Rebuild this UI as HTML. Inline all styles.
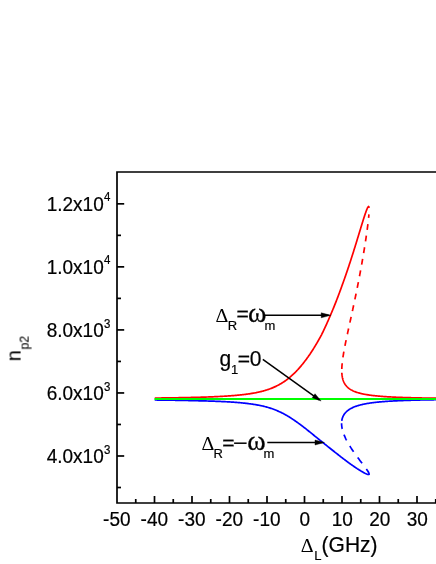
<!DOCTYPE html>
<html><head><meta charset="utf-8"><title>chart</title>
<style>html,body{margin:0;padding:0;background:#fff;}body{width:436px;height:564px;position:relative;overflow:hidden;font-family:"Liberation Sans",sans-serif;}</style>
</head><body>
<svg width="436" height="564" viewBox="0 0 436 564" style="position:absolute;left:0;top:0">
<rect width="436" height="564" fill="#fff"/>
<g fill="none" stroke-width="1.7" stroke-linejoin="round">
<path d="M154.76,398.05 L155.67,398.04 L156.57,398.03 L157.46,398.02 L158.35,398.01 L159.23,398.00 L160.11,397.99 L160.98,397.98 L161.85,397.97 L162.71,397.96 L163.57,397.95 L164.42,397.94 L165.26,397.93 L166.10,397.91 L166.94,397.90 L167.77,397.89 L168.59,397.88 L169.41,397.87 L170.22,397.86 L171.03,397.84 L171.84,397.83 L172.64,397.82 L173.43,397.81 L174.22,397.80 L175.00,397.78 L175.78,397.77 L176.56,397.76 L177.33,397.74 L178.09,397.73 L178.85,397.72 L179.61,397.70 L180.36,397.69 L181.10,397.68 L181.85,397.66 L182.58,397.65 L183.32,397.63 L184.04,397.62 L184.77,397.61 L185.49,397.59 L186.20,397.58 L186.91,397.56 L187.62,397.55 L188.32,397.53 L189.02,397.52 L189.71,397.50 L190.40,397.48 L191.09,397.47 L191.77,397.45 L192.45,397.44 L193.12,397.42 L193.79,397.40 L194.46,397.39 L195.12,397.37 L195.78,397.35 L196.43,397.33 L197.08,397.32 L197.72,397.30 L198.37,397.28 L199.01,397.26 L199.64,397.24 L200.27,397.23 L200.90,397.21 L201.52,397.19 L202.14,397.17 L202.76,397.15 L203.37,397.13 L203.98,397.11 L204.58,397.09 L205.19,397.07 L206.08,397.04 L206.97,397.01 L207.85,396.98 L208.72,396.95 L209.59,396.91 L210.45,396.88 L211.30,396.85 L212.14,396.81 L212.98,396.78 L213.81,396.74 L214.63,396.71 L215.45,396.67 L216.26,396.63 L217.06,396.60 L217.85,396.56 L218.64,396.52 L219.42,396.48 L220.20,396.44 L220.97,396.40 L221.73,396.36 L222.49,396.32 L223.24,396.27 L223.98,396.23 L224.72,396.19 L225.45,396.14 L226.18,396.10 L226.90,396.05 L227.61,396.00 L228.32,395.96 L229.03,395.91 L229.72,395.86 L230.42,395.81 L231.10,395.76 L231.78,395.71 L232.46,395.65 L233.13,395.60 L233.80,395.55 L234.46,395.49 L235.11,395.44 L235.76,395.38 L236.41,395.32 L237.05,395.26 L237.68,395.20 L238.31,395.14 L238.94,395.08 L239.56,395.02 L240.18,394.96 L240.79,394.89 L241.40,394.83 L242.00,394.76 L242.60,394.69 L243.39,394.60 L244.18,394.51 L244.95,394.41 L245.72,394.31 L246.49,394.21 L247.24,394.11 L247.99,394.01 L248.73,393.90 L249.47,393.79 L250.20,393.68 L250.92,393.57 L251.63,393.45 L252.34,393.34 L253.05,393.21 L253.74,393.09 L254.44,392.97 L255.12,392.84 L255.80,392.71 L256.48,392.57 L257.15,392.43 L257.81,392.29 L258.47,392.15 L259.12,392.01 L259.77,391.86 L260.42,391.70 L261.06,391.55 L261.69,391.39 L262.32,391.23 L262.95,391.06 L263.57,390.89 L264.19,390.72 L264.80,390.54 L265.41,390.36 L266.02,390.18 L266.62,389.99 L267.22,389.80 L267.81,389.60 L268.40,389.40 L268.99,389.20 L269.58,388.99 L270.16,388.78 L270.74,388.56 L271.31,388.34 L271.89,388.11 L272.46,387.88 L273.02,387.64 L273.59,387.40 L274.15,387.15 L274.71,386.90 L275.27,386.64 L275.83,386.37 L276.38,386.11 L276.93,385.83 L277.49,385.55 L278.03,385.26 L278.58,384.97 L279.13,384.67 L279.68,384.36 L280.23,384.05 L280.78,383.73 L281.33,383.41 L281.87,383.08 L282.42,382.74 L282.96,382.39 L283.50,382.03 L284.05,381.67 L284.59,381.30 L285.13,380.93 L285.68,380.54 L286.22,380.15 L286.76,379.74 L287.30,379.33 L287.85,378.91 L288.39,378.48 L288.94,378.05 L289.48,377.60 L290.03,377.14 L290.58,376.68 L291.12,376.20 L291.67,375.71 L292.22,375.22 L292.77,374.71 L293.33,374.19 L293.88,373.66 L294.44,373.12 L295.00,372.57 L295.56,372.00 L295.98,371.57 L296.40,371.14 L296.82,370.69 L297.25,370.24 L297.68,369.78 L298.10,369.31 L298.53,368.84 L298.96,368.36 L299.40,367.87 L299.83,367.37 L300.26,366.87 L300.70,366.35 L301.14,365.83 L301.58,365.30 L302.02,364.76 L302.47,364.22 L302.92,363.66 L303.37,363.10 L303.82,362.52 L304.27,361.94 L304.73,361.35 L305.19,360.75 L305.65,360.14 L306.11,359.52 L306.58,358.89 L307.05,358.25 L307.51,357.60 L307.99,356.94 L308.46,356.26 L308.94,355.58 L309.42,354.89 L309.90,354.18 L310.39,353.47 L310.87,352.74 L311.36,352.00 L311.86,351.25 L312.19,350.74 L312.52,350.23 L312.85,349.71 L313.18,349.19 L313.51,348.66 L313.85,348.13 L314.18,347.59 L314.51,347.04 L314.85,346.49 L315.19,345.93 L315.53,345.37 L315.87,344.80 L316.21,344.22 L316.56,343.64 L316.90,343.05 L317.25,342.46 L317.59,341.86 L317.94,341.25 L318.29,340.64 L318.65,340.02 L319.00,339.39 L319.35,338.76 L319.71,338.12 L320.07,337.48 L320.43,336.82 L320.79,336.16 L321.15,335.49 L321.51,334.82 L321.84,334.14 L322.18,333.45 L322.53,332.75 L322.87,332.05 L323.21,331.34 L323.56,330.62 L323.90,329.90 L324.25,329.16 L324.60,328.42 L324.95,327.67 L325.30,326.91 L325.65,326.15 L326.01,325.37 L326.36,324.59 L326.72,323.80 L327.07,323.00 L327.43,322.20 L327.79,321.38 L328.16,320.56 L328.52,319.72 L328.88,318.88 L329.25,318.03 L329.61,317.17 L329.98,316.30 L330.35,315.42 L330.73,314.54 L331.11,313.64 L331.50,312.73 L331.89,311.82 L332.28,310.89 L332.67,309.96 L333.06,309.01 L333.46,308.05 L333.85,307.09 L334.25,306.11 L334.65,305.13 L335.05,304.13 L335.45,303.12 L335.85,302.10 L336.26,301.07 L336.66,300.03 L337.07,298.98 L337.48,297.92 L337.89,296.85 L338.30,295.76 L338.72,294.67 L339.13,293.56 L339.55,292.44 L339.76,291.88 L339.97,291.31 L340.18,290.74 L340.39,290.16 L340.60,289.59 L340.81,289.01 L341.02,288.43 L341.23,287.84 L341.44,287.25 L341.65,286.66 L341.87,286.06 L342.08,285.47 L342.29,284.87 L342.52,284.26 L342.74,283.65 L342.96,283.04 L343.18,282.43 L343.40,281.81 L343.62,281.19 L343.84,280.57 L344.07,279.94 L344.29,279.31 L344.52,278.68 L344.74,278.04 L344.96,277.40 L345.19,276.75 L345.42,276.11 L345.64,275.46 L345.87,274.80 L346.10,274.14 L346.32,273.48 L346.55,272.82 L346.78,272.15 L347.01,271.48 L347.24,270.80 L347.47,270.12 L347.70,269.44 L347.93,268.75 L348.16,268.06 L348.40,267.37 L348.63,266.67 L348.86,265.97 L349.10,265.27 L349.33,264.56 L349.56,263.85 L349.80,263.13 L350.04,262.41 L350.27,261.69 L350.51,260.96 L350.75,260.23 L350.98,259.50 L351.22,258.76 L351.46,258.02 L351.70,257.27 L351.94,256.52 L352.18,255.76 L352.43,255.00 L352.67,254.24 L352.91,253.48 L353.16,252.70 L353.40,251.93 L353.65,251.15 L353.89,250.37 L354.14,249.58 L354.38,248.79 L354.63,247.99 L354.88,247.19 L355.13,246.39 L355.38,245.58 L355.63,244.77 L355.89,243.95 L356.14,243.13 L356.39,242.31 L356.65,241.48 L356.90,240.64 L357.16,239.80 L357.42,238.96 L357.68,238.11 L357.94,237.26 L358.20,236.40 L358.46,235.54 L358.72,234.68 L358.99,233.81 L359.25,232.93 L359.52,232.05 L359.79,231.17 L360.06,230.28 L360.33,229.39 L360.61,228.49 L360.88,227.59 L361.16,226.68 L361.44,225.76 L361.62,225.18 L361.80,224.60 L361.98,224.01 L362.16,223.43 L362.35,222.83 L362.53,222.24 L362.71,221.67 L362.89,221.08 L363.07,220.51 L363.25,219.92 L363.43,219.35 L363.62,218.77 L363.81,218.18 L363.99,217.61 L364.18,217.03 L364.36,216.45 L364.55,215.87 L364.75,215.29 L364.94,214.71 L365.13,214.14 L365.33,213.56 L365.53,212.99 L365.73,212.42 L365.93,211.85 L366.13,211.29 L366.35,210.72 L366.56,210.15 L366.79,209.58 L367.02,209.03 L367.26,208.47 L367.52,207.92 L367.80,207.39 L368.12,206.89 L368.60,206.52 L368.98,206.99 L369.09,207.58 L369.12,207.81" stroke="#ff0000"/>
<path d="M368.93,214.30 L368.90,214.63 L368.87,214.95 L368.85,215.28 L368.82,215.61 L368.79,215.94 L368.76,216.26 L368.73,216.59 L368.69,216.92 L368.66,217.25 L368.63,217.57 L368.60,217.90 M367.90,224.05 L367.84,224.58 L367.77,225.10 L367.71,225.63 L367.64,226.16 L367.57,226.69 L367.51,227.21 L367.44,227.74 L367.37,228.27 L367.30,228.80 L367.23,229.32 L367.16,229.85 M366.35,235.65 L366.27,236.18 L366.19,236.70 L366.12,237.23 L366.04,237.76 L365.96,238.29 L365.88,238.81 L365.80,239.34 L365.73,239.87 L365.65,240.40 L365.57,240.92 L365.49,241.45 M364.58,247.25 L364.50,247.78 L364.41,248.30 L364.33,248.83 L364.24,249.36 L364.16,249.89 L364.07,250.41 L363.98,250.94 L363.90,251.47 L363.81,252.00 L363.72,252.52 L363.64,253.05 M362.65,258.85 L362.56,259.38 L362.47,259.90 L362.38,260.43 L362.29,260.96 L362.20,261.49 L362.10,262.01 L362.01,262.54 L361.92,263.07 L361.82,263.60 L361.73,264.12 L361.64,264.65 M360.58,270.45 L360.49,270.98 L360.39,271.50 L360.29,272.03 L360.19,272.56 L360.10,273.09 L360.00,273.61 L359.90,274.14 L359.80,274.67 L359.70,275.20 L359.60,275.72 L359.50,276.25 M358.39,282.05 L358.28,282.58 L358.18,283.10 L358.08,283.63 L357.97,284.16 L357.87,284.69 L357.76,285.21 L357.66,285.74 L357.56,286.27 L357.45,286.80 L357.35,287.32 L357.24,287.85 M356.07,293.65 L355.96,294.18 L355.85,294.70 L355.74,295.23 L355.63,295.76 L355.52,296.29 L355.41,296.81 L355.31,297.34 L355.20,297.87 L355.09,298.40 L354.98,298.92 L354.87,299.45 M353.64,305.25 L353.53,305.78 L353.42,306.30 L353.30,306.83 L353.19,307.36 L353.08,307.89 L352.97,308.41 L352.85,308.94 L352.74,309.47 L352.63,310.00 L352.51,310.52 L352.40,311.05 M351.14,316.85 L351.02,317.38 L350.91,317.90 L350.79,318.43 L350.68,318.96 L350.56,319.49 L350.45,320.01 L350.33,320.54 L350.22,321.07 L350.10,321.60 L349.99,322.12 L349.87,322.65 M348.61,328.45 L348.49,328.98 L348.38,329.50 L348.26,330.03 L348.15,330.56 L348.03,331.09 L347.92,331.61 L347.80,332.14 L347.69,332.67 L347.58,333.20 L347.46,333.72 L347.35,334.25 M346.13,340.05 L346.02,340.58 L345.91,341.10 L345.80,341.63 L345.69,342.16 L345.58,342.69 L345.48,343.21 L345.37,343.74 L345.27,344.27 L345.16,344.80 L345.06,345.32 L344.95,345.85 M343.87,351.65 L343.78,352.18 L343.68,352.70 L343.59,353.23 L343.50,353.76 L343.42,354.29 L343.33,354.81 L343.25,355.34 L343.16,355.87 L343.08,356.40 L343.00,356.92 L342.92,357.45 M342.19,363.25 L342.14,363.78 L342.09,364.30 L342.04,364.83 L342.00,365.36 L341.96,365.89 L341.93,366.41 L341.89,366.94 L341.87,367.47 L341.84,368.00 L341.82,368.52 L341.81,369.05" stroke="#ff0000"/>
<path d="M341.84,372.71 L341.88,373.39 L341.93,374.06 L341.99,374.71 L342.06,375.34 L342.14,375.96 L342.24,376.56 L342.36,377.26 L342.50,377.94 L342.65,378.59 L342.82,379.23 L343.00,379.84 L343.20,380.44 L343.40,381.02 L343.63,381.58 L343.91,382.21 L344.21,382.82 L344.52,383.41 L344.86,383.97 L345.21,384.52 L345.58,385.04 L345.98,385.55 L346.38,386.04 L346.81,386.51 L347.26,386.96 L347.72,387.40 L348.20,387.82 L348.70,388.22 L349.22,388.61 L349.76,388.99 L350.31,389.35 L350.88,389.70 L351.47,390.04 L352.08,390.36 L352.71,390.68 L353.26,390.94 L353.82,391.19 L354.40,391.43 L354.99,391.67 L355.59,391.89 L356.21,392.12 L356.84,392.33 L357.48,392.54 L358.14,392.74 L358.81,392.93 L359.50,393.12 L360.08,393.28 L360.67,393.42 L361.27,393.57 L361.88,393.71 L362.50,393.85 L363.12,393.98 L363.76,394.11 L364.41,394.24 L365.07,394.36 L365.74,394.48 L366.42,394.60 L367.10,394.71 L367.80,394.83 L368.51,394.93 L369.23,395.04 L369.95,395.14 L370.69,395.24 L371.29,395.32 L371.89,395.40 L372.50,395.47 L373.12,395.55 L373.75,395.62 L374.38,395.69 L375.01,395.76 L375.66,395.82 L376.31,395.89 L376.97,395.96 L377.63,396.02 L378.30,396.08 L378.98,396.14 L379.67,396.20 L380.36,396.26 L381.06,396.32 L381.77,396.37 L382.48,396.43 L383.20,396.48 L383.93,396.53 L384.66,396.58 L385.41,396.63 L386.16,396.68 L386.91,396.73 L387.68,396.78 L388.45,396.82 L389.23,396.87 L390.02,396.91 L390.81,396.96 L391.41,396.99 L392.02,397.02 L392.62,397.05 L393.24,397.08 L393.85,397.11 L394.48,397.14 L395.10,397.17 L395.73,397.20 L396.37,397.23 L397.01,397.25 L397.65,397.28 L398.30,397.31 L398.95,397.33 L399.61,397.36 L400.27,397.39 L400.94,397.41 L401.61,397.44 L402.28,397.46 L402.96,397.48 L403.64,397.51 L404.33,397.53 L405.03,397.55 L405.72,397.58 L406.43,397.60 L407.13,397.62 L407.84,397.64 L408.56,397.66 L409.28,397.68 L410.01,397.70 L410.74,397.72 L411.47,397.74 L412.21,397.76 L412.95,397.78 L413.70,397.80 L414.46,397.82 L415.22,397.84 L415.98,397.86 L416.75,397.87 L417.52,397.89 L418.30,397.91 L419.08,397.93 L419.87,397.94 L420.66,397.96 L421.46,397.97 L422.26,397.99 L423.07,398.01 L423.88,398.02 L424.70,398.04 L425.52,398.05 L426.34,398.07 L427.18,398.08 L428.01,398.09 L428.86,398.11 L429.70,398.12 L430.55,398.14 L431.41,398.15 L432.27,398.16 L433.14,398.18 L434.01,398.19 L434.89,398.20 L435.77,398.21 L436.66,398.23 L437.55,398.24 L438.45,398.25 L439.05,398.26 L439.66,398.26 L439.96,398.27" stroke="#ff0000"/>
<path d="M154.70,400.00 L155.56,400.01 L156.40,400.02 L157.25,400.03 L158.09,400.04 L158.92,400.05 L159.75,400.06 L160.57,400.07 L161.39,400.08 L162.20,400.09 L163.01,400.10 L163.82,400.11 L164.62,400.12 L165.41,400.13 L166.20,400.14 L166.99,400.15 L167.77,400.16 L168.54,400.18 L169.32,400.19 L170.08,400.20 L170.85,400.21 L171.60,400.22 L172.36,400.23 L173.11,400.24 L173.85,400.26 L174.59,400.27 L175.33,400.28 L176.06,400.29 L176.79,400.30 L177.52,400.32 L178.24,400.33 L178.95,400.34 L179.66,400.35 L180.37,400.37 L181.07,400.38 L181.77,400.39 L182.47,400.41 L183.16,400.42 L183.85,400.43 L184.53,400.45 L185.21,400.46 L185.88,400.47 L186.56,400.49 L187.22,400.50 L187.89,400.52 L188.55,400.53 L189.21,400.55 L189.86,400.56 L190.51,400.57 L191.15,400.59 L191.80,400.60 L192.43,400.62 L193.07,400.64 L193.70,400.65 L194.33,400.67 L194.95,400.68 L195.57,400.70 L196.19,400.71 L196.80,400.73 L197.41,400.75 L198.02,400.76 L198.63,400.78 L199.23,400.80 L200.12,400.82 L201.01,400.84 L201.89,400.86 L202.76,400.88 L203.62,400.90 L204.48,400.93 L205.33,400.95 L206.18,400.97 L207.01,400.99 L207.84,401.02 L208.67,401.04 L209.48,401.07 L210.29,401.09 L211.10,401.12 L211.90,401.14 L212.69,401.17 L213.47,401.20 L214.25,401.22 L215.02,401.25 L215.79,401.28 L216.55,401.31 L217.30,401.34 L218.05,401.37 L218.79,401.40 L219.53,401.43 L220.26,401.46 L220.98,401.49 L221.70,401.53 L222.41,401.56 L223.12,401.59 L223.82,401.63 L224.52,401.66 L225.21,401.70 L225.90,401.73 L226.58,401.77 L227.26,401.81 L227.93,401.85 L228.59,401.88 L229.25,401.92 L229.91,401.96 L230.56,402.00 L231.20,402.05 L231.85,402.09 L232.48,402.13 L233.11,402.17 L233.74,402.22 L234.36,402.26 L234.98,402.31 L235.59,402.35 L236.20,402.40 L236.80,402.45 L237.40,402.49 L238.20,402.56 L238.98,402.63 L239.76,402.70 L240.53,402.76 L241.29,402.84 L242.05,402.91 L242.80,402.98 L243.54,403.06 L244.28,403.14 L245.00,403.21 L245.73,403.29 L246.44,403.38 L247.15,403.46 L247.85,403.55 L248.55,403.63 L249.24,403.72 L249.93,403.81 L250.61,403.90 L251.28,404.00 L251.95,404.10 L252.61,404.19 L253.26,404.29 L253.91,404.40 L254.56,404.50 L255.20,404.60 L255.84,404.71 L256.47,404.82 L257.09,404.93 L257.71,405.04 L258.33,405.15 L258.94,405.27 L259.55,405.39 L260.15,405.51 L260.75,405.64 L261.34,405.76 L261.93,405.89 L262.52,406.02 L263.25,406.19 L263.97,406.36 L264.68,406.54 L265.39,406.72 L266.10,406.91 L266.80,407.10 L267.49,407.29 L268.19,407.49 L268.87,407.70 L269.55,407.90 L270.23,408.12 L270.91,408.34 L271.58,408.57 L272.25,408.80 L272.91,409.03 L273.57,409.28 L274.23,409.52 L274.89,409.78 L275.54,410.04 L276.19,410.31 L276.85,410.58 L277.50,410.86 L278.14,411.14 L278.79,411.43 L279.44,411.71 L280.09,412.01 L280.73,412.31 L281.38,412.63 L282.03,412.94 L282.68,413.27 L283.33,413.61 L283.98,413.95 L284.64,414.30 L285.29,414.66 L285.82,414.96 L286.35,415.26 L286.88,415.56 L287.41,415.88 L287.95,416.20 L288.49,416.52 L289.03,416.85 L289.58,417.19 L290.12,417.53 L290.68,417.88 L291.23,418.24 L291.79,418.61 L292.36,418.98 L292.92,419.36 L293.50,419.75 L294.08,420.14 L294.66,420.55 L295.25,420.96 L295.85,421.37 L296.45,421.80 L297.06,422.23 L297.67,422.68 L298.29,423.13 L298.93,423.59 L299.56,424.05 L300.05,424.41 L300.54,424.77 L301.03,425.14 L301.53,425.51 L302.03,425.89 L302.54,426.27 L303.06,426.66 L303.58,427.06 L304.10,427.46 L304.64,427.86 L305.18,428.28 L305.72,428.71 L306.27,429.16 L306.83,429.61 L307.40,430.06 L307.97,430.52 L308.55,430.99 L309.14,431.47 L309.74,431.95 L310.34,432.44 L310.95,432.93 L311.57,433.43 L312.20,433.94 L312.84,434.46 L313.49,434.98 L314.14,435.51 L314.81,436.05 L315.49,436.60 L316.17,437.15 L316.87,437.71 L317.34,438.09 L317.82,438.47 L318.30,438.86 L318.78,439.25 L319.27,439.64 L319.77,440.04 L320.27,440.45 L320.78,440.86 L321.29,441.27 L321.81,441.69 L322.33,442.12 L322.86,442.54 L323.39,442.98 L323.93,443.41 L324.48,443.85 L325.03,444.29 L325.59,444.74 L326.16,445.20 L326.73,445.65 L327.30,446.11 L327.89,446.58 L328.48,447.05 L329.08,447.52 L329.68,448.00 L330.30,448.48 L330.92,448.97 L331.54,449.46 L332.18,449.96 L332.82,450.48 L333.47,451.00 L334.13,451.52 L334.79,452.05 L335.46,452.59 L336.15,453.13 L336.84,453.67 L337.54,454.23 L338.24,454.78 L338.96,455.34 L339.69,455.91 L340.42,456.48 L341.17,457.06 L341.92,457.64 L342.69,458.23 L343.46,458.82 L344.25,459.42 L345.04,460.03 L345.85,460.63 L346.67,461.23 L347.50,461.84 L348.34,462.46 L349.20,463.08 L350.06,463.71 L350.95,464.34 L351.84,464.98 L352.75,465.63 L353.68,466.28 L354.62,466.94 L355.12,467.28 L355.62,467.61 L356.13,467.94 L356.64,468.27 L357.15,468.61 L357.67,468.94 L358.18,469.26 L358.68,469.59 L359.19,469.91 L359.71,470.23 L360.23,470.55 L360.75,470.86 L361.27,471.18 L361.79,471.49 L362.31,471.79 L362.84,472.10 L363.37,472.40 L363.90,472.69 L364.43,472.97 L364.96,473.25 L365.50,473.52 L366.05,473.77 L366.60,474.01 L367.17,474.23 L367.74,474.40 L368.33,474.50 L368.92,474.35 L369.08,474.00" stroke="#0000ff"/>
<path d="M341.59,423.15 L341.59,423.68 L341.60,424.20 L341.63,424.73 L341.67,425.26 L341.72,425.79 L341.78,426.31 L341.85,426.84 L341.93,427.37 L342.02,427.90 L342.12,428.42 L342.24,428.95 M343.97,434.60 L344.18,435.13 L344.40,435.65 L344.62,436.18 L344.84,436.71 L345.08,437.24 L345.32,437.76 L345.56,438.29 L345.82,438.82 L346.07,439.35 L346.34,439.87 L346.61,440.40 M349.82,446.05 L350.14,446.58 L350.47,447.10 L350.81,447.63 L351.15,448.16 L351.49,448.69 L351.83,449.21 L352.18,449.74 L352.54,450.27 L352.89,450.80 L353.25,451.32 L353.62,451.85 M357.69,457.50 L358.08,458.03 L358.48,458.55 L358.88,459.08 L359.28,459.61 L359.68,460.14 L360.08,460.66 L360.48,461.19 L360.88,461.72 L361.29,462.25 L361.69,462.77 L362.09,463.30 M366.34,468.95 L366.70,469.45 L367.05,469.96 L367.40,470.46 L367.73,470.97 L368.04,471.47 L368.34,471.98 L368.61,472.48 L368.85,472.99 L369.03,473.49 L369.08,473.99 L368.41,474.50" stroke="#0000ff"/>
<path d="M341.77,420.79 L341.86,420.19 L342.00,419.51 L342.16,418.85 L342.34,418.22 L342.55,417.60 L342.77,417.00 L343.02,416.42 L343.29,415.86 L343.59,415.32 L343.90,414.80 L344.22,414.29 L344.57,413.80 L344.99,413.26 L345.43,412.74 L345.90,412.23 L346.38,411.75 L346.82,411.34 L347.28,410.94 L347.75,410.56 L348.24,410.19 L348.74,409.83 L349.26,409.48 L349.79,409.14 L350.34,408.82 L350.90,408.50 L351.47,408.20 L352.06,407.90 L352.66,407.61 L353.27,407.34 L353.90,407.07 L354.54,406.81 L355.19,406.56 L355.76,406.35 L356.34,406.15 L356.93,405.95 L357.53,405.76 L358.14,405.57 L358.76,405.39 L359.38,405.21 L360.02,405.04 L360.67,404.87 L361.32,404.71 L361.98,404.55 L362.66,404.40 L363.34,404.25 L364.03,404.11 L364.74,403.96 L365.33,403.85 L365.93,403.74 L366.53,403.63 L367.15,403.52 L367.77,403.42 L368.39,403.32 L369.02,403.22 L369.66,403.12 L370.31,403.02 L370.96,402.93 L371.62,402.84 L372.28,402.75 L372.96,402.66 L373.64,402.58 L374.32,402.50 L375.02,402.42 L375.72,402.34 L376.42,402.26 L377.14,402.18 L377.86,402.11 L378.59,402.04 L379.32,401.97 L380.06,401.90 L380.66,401.85 L381.27,401.79 L381.87,401.74 L382.49,401.69 L383.10,401.64 L383.73,401.59 L384.35,401.54 L384.98,401.50 L385.62,401.45 L386.26,401.40 L386.90,401.36 L387.55,401.31 L388.21,401.27 L388.87,401.23 L389.53,401.19 L390.20,401.15 L390.87,401.11 L391.55,401.07 L392.24,401.03 L392.92,400.99 L393.62,400.96 L394.32,400.92 L395.02,400.88 L395.73,400.85 L396.44,400.81 L397.16,400.78 L397.88,400.75 L398.61,400.71 L399.34,400.68 L400.08,400.65 L400.82,400.62 L401.56,400.59 L402.32,400.56 L403.07,400.53 L403.84,400.50 L404.60,400.47 L405.38,400.45 L406.15,400.42 L406.94,400.39 L407.72,400.37 L408.52,400.34 L409.31,400.32 L409.92,400.30 L410.52,400.28 L411.13,400.26 L411.74,400.24 L412.35,400.23 L412.97,400.21 L413.59,400.19 L414.21,400.18 L414.83,400.16 L415.46,400.14 L416.09,400.13 L416.73,400.11 L417.36,400.10 L418.00,400.08 L418.65,400.06 L419.29,400.05 L419.94,400.03 L420.59,400.02 L421.24,400.01 L421.90,399.99 L422.56,399.98 L423.22,399.96 L423.89,399.95 L424.56,399.94 L425.23,399.92 L425.90,399.91 L426.58,399.90 L427.26,399.89 L427.94,399.87 L428.63,399.86 L429.32,399.85 L430.01,399.84 L430.71,399.82 L431.41,399.81 L432.11,399.80 L432.81,399.79 L433.52,399.78 L434.23,399.77 L434.94,399.76 L435.65,399.75 L436.37,399.74 L437.09,399.73 L437.82,399.71 L438.54,399.70 L439.27,399.69 L439.76,399.69" stroke="#0000ff"/>
<path d="M154.5,399 L440,399" stroke="#00ff00" stroke-width="2"/>
</g>
<g stroke="#000" stroke-width="1.7" fill="none" stroke-linecap="butt">
<path d="M440,172 L117,172 L117,503 L440,503" stroke-linejoin="miter"/>
<path d="M117,487.51 h4"/>
<path d="M117,455.99 h7.2"/>
<path d="M117,424.47 h4"/>
<path d="M117,392.95 h7.2"/>
<path d="M117,361.43 h4"/>
<path d="M117,329.91 h7.2"/>
<path d="M117,298.39 h4"/>
<path d="M117,266.87 h7.2"/>
<path d="M117,235.35 h4"/>
<path d="M117,203.83 h7.2"/>
<path d="M135.75,503 v-4"/>
<path d="M154.50,503 v-7"/>
<path d="M173.25,503 v-4"/>
<path d="M192.00,503 v-7"/>
<path d="M210.75,503 v-4"/>
<path d="M229.50,503 v-7"/>
<path d="M248.25,503 v-4"/>
<path d="M267.00,503 v-7"/>
<path d="M285.75,503 v-4"/>
<path d="M304.50,503 v-7"/>
<path d="M323.25,503 v-4"/>
<path d="M342.00,503 v-7"/>
<path d="M360.75,503 v-4"/>
<path d="M379.50,503 v-7"/>
<path d="M398.25,503 v-4"/>
<path d="M417.00,503 v-7"/>
<path d="M435.75,503 v-4"/>
</g>
<path d="M265.00,315.30 L328.60,315.30" stroke="#000" stroke-width="1.5" fill="none"/><path d="M330.80,315.30 L321.20,317.80 L321.20,312.80 Z" fill="#000" stroke="#000" stroke-width="0.4" stroke-linejoin="miter" stroke-miterlimit="10"/>
<path d="M262.80,359.30 L319.31,399.77" stroke="#000" stroke-width="1.5" fill="none"/><path d="M321.10,401.05 L312.22,397.64 L315.02,393.74 Z" fill="#000" stroke="#000" stroke-width="0.4" stroke-linejoin="miter" stroke-miterlimit="10"/>
<path d="M267.30,442.50 L322.20,442.50" stroke="#000" stroke-width="1.5" fill="none"/><path d="M324.40,442.50 L315.00,445.00 L315.00,440.00 Z" fill="#000" stroke="#000" stroke-width="0.4" stroke-linejoin="miter" stroke-miterlimit="10"/>
<g font-family="Liberation Sans, sans-serif" fill="#000" stroke="#000" stroke-width="0.2" style="will-change:transform">
<text transform="translate(103.70,211.13) scale(1,1.05)" font-size="19.0" text-anchor="end">1.2x10</text>
<text transform="translate(103.90,201.43) scale(1,1.05)" font-size="11.5" >4</text>
<text transform="translate(103.70,274.17) scale(1,1.05)" font-size="19.0" text-anchor="end">1.0x10</text>
<text transform="translate(103.90,264.47) scale(1,1.05)" font-size="11.5" >4</text>
<text transform="translate(103.70,337.21) scale(1,1.05)" font-size="19.0" text-anchor="end">8.0x10</text>
<text transform="translate(103.90,327.51) scale(1,1.05)" font-size="11.5" >3</text>
<text transform="translate(103.70,400.25) scale(1,1.05)" font-size="19.0" text-anchor="end">6.0x10</text>
<text transform="translate(103.90,390.55) scale(1,1.05)" font-size="11.5" >3</text>
<text transform="translate(103.70,463.29) scale(1,1.05)" font-size="19.0" text-anchor="end">4.0x10</text>
<text transform="translate(103.90,453.59) scale(1,1.05)" font-size="11.5" >3</text>
<text transform="translate(116.80,525.80) scale(1,1.05)" font-size="19.0" text-anchor="middle">-50</text>
<text transform="translate(154.30,525.80) scale(1,1.05)" font-size="19.0" text-anchor="middle">-40</text>
<text transform="translate(191.80,525.80) scale(1,1.05)" font-size="19.0" text-anchor="middle">-30</text>
<text transform="translate(229.30,525.80) scale(1,1.05)" font-size="19.0" text-anchor="middle">-20</text>
<text transform="translate(266.80,525.80) scale(1,1.05)" font-size="19.0" text-anchor="middle">-10</text>
<text transform="translate(304.70,525.80) scale(1,1.05)" font-size="19.0" text-anchor="middle">0</text>
<text transform="translate(342.20,525.80) scale(1,1.05)" font-size="19.0" text-anchor="middle">10</text>
<text transform="translate(379.70,525.80) scale(1,1.05)" font-size="19.0" text-anchor="middle">20</text>
<text transform="translate(417.20,525.80) scale(1,1.05)" font-size="19.0" text-anchor="middle">30</text>
<text transform="translate(300.80,551.60) scale(1,0.93)" font-size="20" font-family="Liberation Serif, serif" stroke="none">Δ</text>
<text transform="translate(314.30,559.80) scale(1,1.05)" font-size="13" >L</text>
<text transform="translate(321.60,551.50) scale(1,1.05)" font-size="21" >(GHz)</text>
<text transform="translate(20.6,361.3) rotate(-90) scale(0.94,1)" font-size="21" stroke-width="0.1">n<tspan font-size="13" dy="8.0" dx="0.9">p2</tspan></text>
<text transform="translate(215.50,321.50) scale(1,0.93)" font-size="20" font-family="Liberation Serif, serif" stroke="none">Δ</text>
<text transform="translate(227.80,329.80) scale(1,1.05)" font-size="13" >R</text>
<text x="236.60" y="321.00" font-size="21" stroke="#000" stroke-width="0.35">=</text>
<text x="248.10" y="322.00" font-size="28" font-family="Liberation Serif, serif" stroke-width="0.3">ω</text>
<text transform="translate(264.60,329.80) scale(1,1.05)" font-size="13" >m</text>
<text transform="translate(219.50,366.30) scale(1,1.05)" font-size="21" >g</text>
<text transform="translate(231.00,373.80) scale(1,1.05)" font-size="13" >1</text>
<text x="237.70" y="365.90" font-size="21" stroke="#000" stroke-width="0.35">=</text>
<text transform="translate(249.70,366.30) scale(1,1.05)" font-size="21" >0</text>
<text transform="translate(201.50,449.70) scale(1,0.93)" font-size="20" font-family="Liberation Serif, serif" stroke="none">Δ</text>
<text transform="translate(213.40,457.60) scale(1,1.05)" font-size="13" >R</text>
<text x="222.20" y="449.70" font-size="21" stroke="#000" stroke-width="0.35">=</text>
<path d="M234.1,443.2 H246.6" stroke="#000" stroke-width="1.5"/>
<text x="247.30" y="450.00" font-size="28" font-family="Liberation Serif, serif" stroke-width="0.3">ω</text>
<text transform="translate(263.60,457.60) scale(1,1.05)" font-size="13" >m</text>
</g>
</svg>
</body></html>
